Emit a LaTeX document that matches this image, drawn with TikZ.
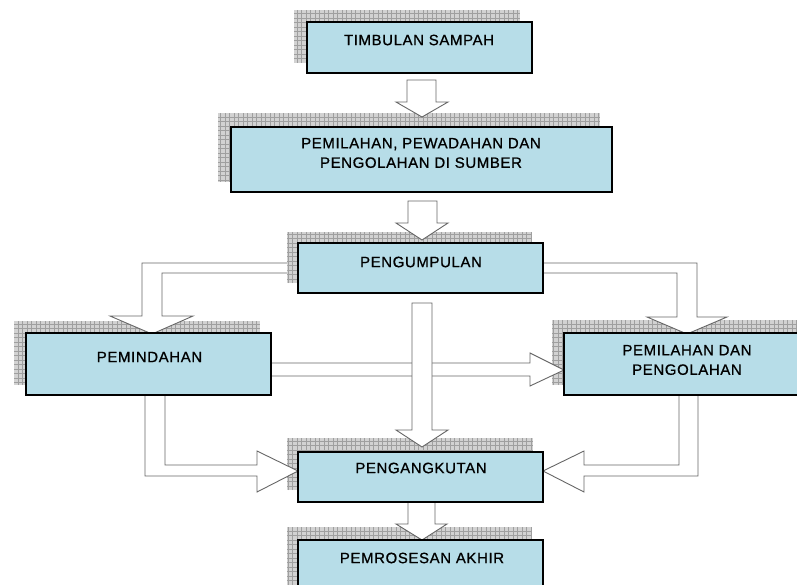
\documentclass[tikz,border=0pt]{standalone}
\usepackage{fontspec}
\newfontfamily\boxfont[LetterSpace=4, FakeBold=0.8]{Liberation Sans}
\definecolor{boxblue}{RGB}{183,221,232}
\tikzset{
  box/.style={draw=black, line width=2.8pt, fill=boxblue, inner sep=0pt},
  lbl/.style={font=\boxfont\fontsize{15}{19.5}\selectfont, align=center, inner sep=0pt},
  shadowfill/.style={fill=gray!35},
  gridline/.style={draw=gray!75, line width=0.5pt},
  blockarrow/.style={fill=white, draw=black!60, line width=0.9pt, line join=miter},
}
\newcommand\shadowbox[2]{%
  \fill[shadowfill] #1 rectangle #2;
  \begin{scope}\clip #1 rectangle #2;
    \draw[gridline, step=4.5pt] #1 grid #2;
  \end{scope}}
\begin{document}
\begin{tikzpicture}[x=1pt, y=-1pt]
\useasboundingbox (0,0) rectangle (797,585);
\clip (0,0) rectangle (797,585);

% shadows
\shadowbox{(294,10)}{(520,63)}
\shadowbox{(218,113)}{(600,182)}
\shadowbox{(287,232)}{(532,283)}
\shadowbox{(14,321)}{(260,385)}
\shadowbox{(552,320)}{(797,385)}
\shadowbox{(287,438)}{(533,490)}
\shadowbox{(287,527)}{(532,590)}

% block arrows
\filldraw[blockarrow] (407,80)--(436,80)--(436,102)--(448,102)--(422,117)--(396,102)--(407,102)--cycle;
\filldraw[blockarrow] (408,201)--(437,201)--(437,223)--(448,223)--(422,240)--(396,223)--(408,223)--cycle;
\filldraw[blockarrow] (287,263)--(142,263)--(142,316)--(110,316)--(152,334)--(193,316)--(162,316)--(162,273)--(287,273);
\filldraw[blockarrow] (543,263)--(697,263)--(697,317)--(727,317)--(687,334)--(647,317)--(677,317)--(677,273)--(543,273);
\filldraw[blockarrow] (271,363)--(530,363)--(530,353)--(564,370)--(530,386)--(530,376)--(271,376);
\filldraw[blockarrow] (412,303)--(432,303)--(432,430)--(448,430)--(422,447)--(396,430)--(412,430)--cycle;
\filldraw[blockarrow] (145,395)--(145,476)--(257,476)--(257,492)--(298,471)--(257,451)--(257,465)--(165,465)--(165,395);
\filldraw[blockarrow] (698,395)--(698,476)--(584,476)--(584,492)--(543,471)--(584,451)--(584,465)--(679,465)--(679,395);
\filldraw[blockarrow] (408,502)--(435,502)--(435,524)--(447,524)--(422,540)--(396,524)--(408,524)--cycle;

% boxes
\node[box, minimum width=225, minimum height=51] (b1) at (419.5,47.5) {};
\node[box, minimum width=381, minimum height=65] (b2) at (421.5,159.5) {};
\node[box, minimum width=245, minimum height=50] (b3) at (420.5,268) {};
\node[box, minimum width=245, minimum height=62] (b4) at (148.5,364) {};
\node[box, minimum width=245, minimum height=62] (b5) at (686.5,364) {};
\node[box, minimum width=245, minimum height=50] (b6) at (420.5,477) {};
\node[box, minimum width=245, minimum height=60] (b7) at (420.5,570) {};

% labels
\node[lbl] (t1) at (419,40) {TIMBULAN SAMPAH};
\node[lbl] (t2) at (421,153) {PEMILAHAN, PEWADAHAN DAN\\PENGOLAHAN DI SUMBER};
\node[lbl] (t3) at (421,262) {PENGUMPULAN};
\node[lbl] (t4) at (149.5,357) {PEMINDAHAN};
\node[lbl] (t5) at (687,360) {PEMILAHAN DAN\\PENGOLAHAN};
\node[lbl] (t6) at (421,468) {PENGANGKUTAN};
\node[lbl] (t7) at (422,558) {PEMROSESAN AKHIR};
\end{tikzpicture}
\end{document}
